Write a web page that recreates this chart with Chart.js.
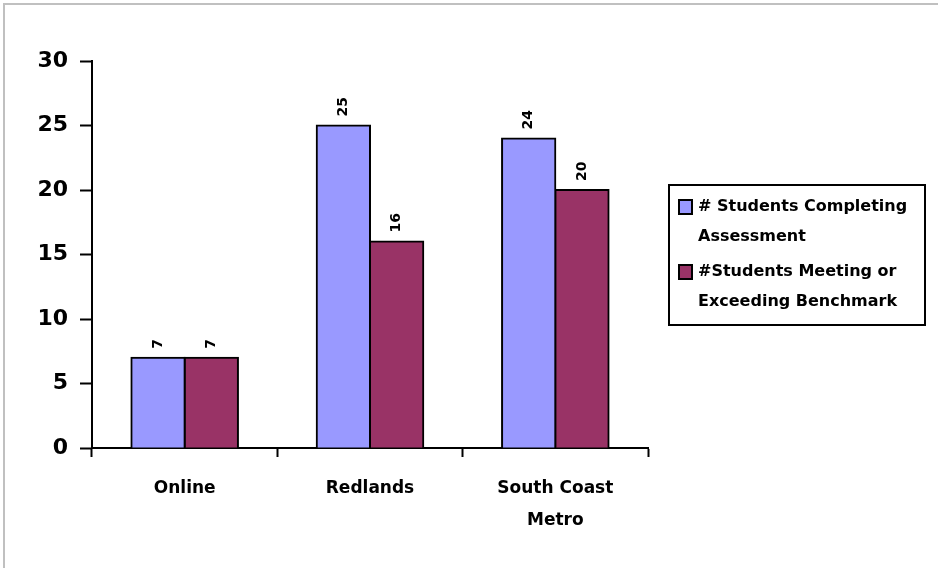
<!DOCTYPE html>
<html>
<head>
<meta charset="utf-8">
<script src="https://cdn.jsdelivr.net/npm/chart.js@4/dist/chart.umd.min.js"></script>
<style>
  body { margin: 0; background: #fff; }
  canvas { display: block; }
</style>
</head>
<body>
<canvas id="myChart" width="938" height="568"></canvas>
<script>
const categories = ['Online', 'Redlands', ['South Coast', 'Metro']];
const completing = [7, 25, 24];
const meeting = [7, 16, 20];
const seriesNames = [['# Students Completing', 'Assessment'], ['#Students Meeting or', 'Exceeding Benchmark']];
const yTicks = [0, 5, 10, 15, 20, 25, 30];

const FONT = '"DejaVu Sans", Verdana, sans-serif';

// grey frame round the picture
const framePlugin = {
    id: 'frame',
    beforeDraw(chart) {
        const c = chart.ctx;
        c.save();
        c.fillStyle = '#fff';
        c.fillRect(0, 0, chart.width, chart.height);
        c.strokeStyle = '#c0c0c0';
        c.lineWidth = 2;
        c.strokeRect(4, 4, chart.width + 10, chart.height + 10);
        c.restore();
    }
};

// rotated value labels above each bar
const valueLabels = {
    id: 'valueLabels',
    afterDatasetsDraw(chart) {
        const c = chart.ctx;
        c.save();
        c.fillStyle = '#000';
        c.font = 'bold 14px ' + FONT;
        c.textAlign = 'left';
        c.textBaseline = 'middle';
        chart.data.datasets.forEach((ds, i) => {
            chart.getDatasetMeta(i).data.forEach((bar, j) => {
                c.save();
                c.translate(bar.x, bar.y - 9);
                c.rotate(-Math.PI / 2);
                c.fillText(String(ds.data[j]), 0, 0);
                c.restore();
            });
        });
        c.restore();
    }
};

// boxed legend on the right, two lines per entry
const boxLegend = {
    id: 'boxLegend',
    afterDraw(chart) {
        const c = chart.ctx;
        const x0 = 669, y0 = 185, w = 256, h = 140;
        c.save();
        c.strokeStyle = '#000';
        c.lineWidth = 2;
        c.strokeRect(x0, y0, w, h);
        c.font = 'bold 16px ' + FONT;
        c.textBaseline = 'middle';
        c.textAlign = 'left';
        const firstLines = [207, 272];
        chart.data.datasets.forEach((ds, i) => {
            const ly = firstLines[i];
            c.fillStyle = ds.backgroundColor;
            c.fillRect(679, ly - 7, 13, 14);
            c.lineWidth = 2;
            c.strokeRect(679, ly - 7, 13, 14);
            c.fillStyle = '#000';
            ds.label.forEach((t, k) => c.fillText(t, 698, ly + k * 29.5));
        });
        c.restore();
    }
};

const ctx = document.getElementById('myChart').getContext('2d');
const myChart = new Chart(ctx, {
    type: 'bar',
    data: {
        labels: categories,
        datasets: [{
            label: seriesNames[0],
            data: completing,
            backgroundColor: '#9999FF',
            borderColor: '#000',
            borderWidth: 2,
            inflateAmount: 1
        }, {
            label: seriesNames[1],
            data: meeting,
            backgroundColor: '#993366',
            borderColor: '#000',
            borderWidth: 2,
            inflateAmount: 1
        }]
    },
    options: {
        responsive: false,
        animation: false,
        layout: { padding: { top: 61, right: 290, left: 0, bottom: 0 } },
        datasets: { bar: { categoryPercentage: 0.575, barPercentage: 1 } },
        plugins: {
            legend: { display: false },
            tooltip: { enabled: false }
        },
        scales: {
            x: {
                afterFit(scale) { scale.height = 120; },
                grid: {
                    offset: true,
                    drawOnChartArea: false,
                    drawTicks: true,
                    tickLength: 9,
                    tickWidth: 2,
                    tickColor: '#000'
                },
                border: { color: '#000', width: 2 },
                ticks: {
                    color: '#000',
                    padding: 16,
                    maxRotation: 0,
                    font: { family: FONT, size: 17, weight: 'bold', lineHeight: 1.85 }
                }
            },
            y: {
                min: 0,
                max: 30,
                afterFit(scale) { scale.width = 92; },
                afterBuildTicks(scale) { scale.ticks = yTicks.map(v => ({ value: v })); },
                grid: {
                    drawOnChartArea: false,
                    tickLength: 12,
                    tickWidth: 2,
                    tickColor: '#000'
                },
                border: { color: '#000', width: 2 },
                ticks: {
                    color: '#000',
                    padding: 12,
                    font: { family: FONT, size: 22, weight: 'bold' }
                }
            }
        }
    },
    plugins: [framePlugin, valueLabels, boxLegend]
});
</script>
</body>
</html>
